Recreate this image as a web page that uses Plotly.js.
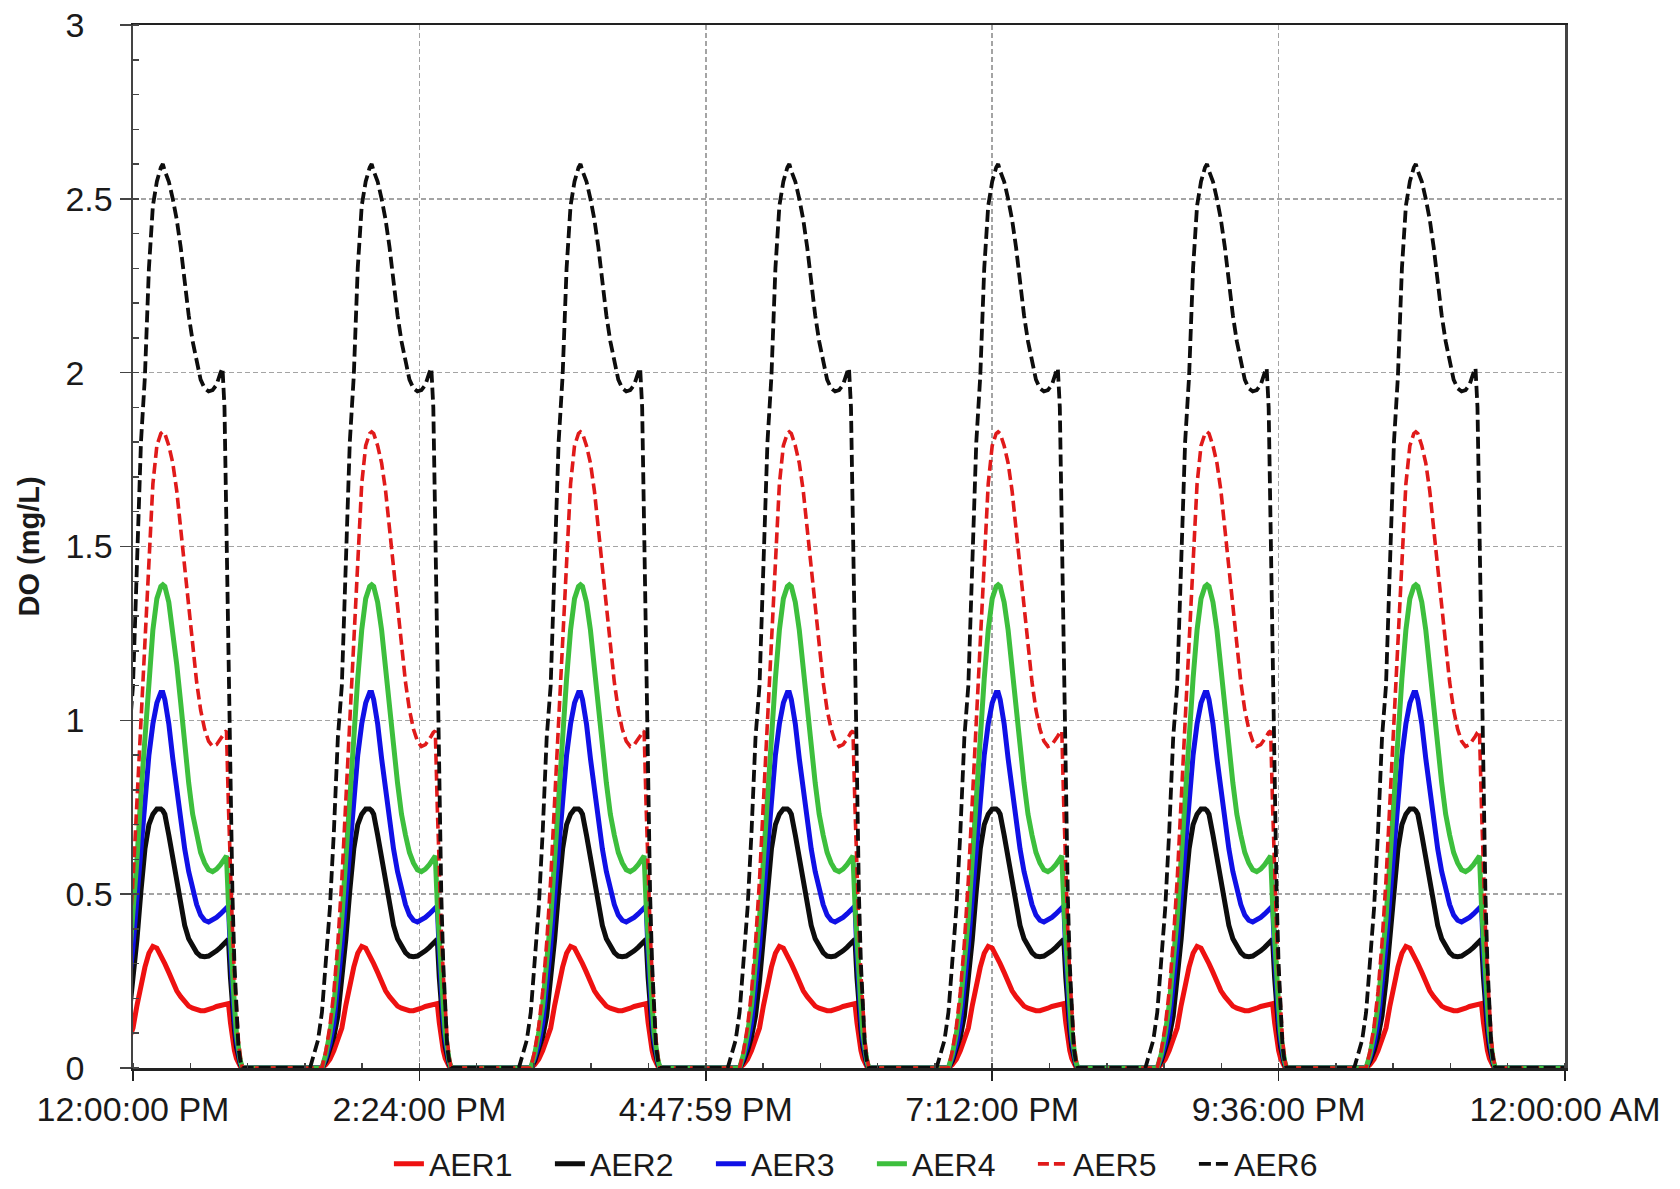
<!DOCTYPE html>
<html>
<head>
<meta charset="utf-8">
<script src="https://cdn.plot.ly/plotly-3.0.1.min.js"></script>
<style>
  html, body { margin: 0; padding: 0; background: #ffffff; }
  #chart { width: 1680px; height: 1189px; }
</style>
</head>
<body>
<div id="chart"></div>
<script>
// ---- Data ----
// x axis: minutes after 12:00:00 PM
const timeTickMinutes = [0, 144, 288, 432, 576, 720];
const timeTickLabels = ['12:00:00 PM', '2:24:00 PM', '4:47:59 PM', '7:12:00 PM', '9:36:00 PM', '12:00:00 AM'];
const windowEndMinutes = 720;

const doTickValues = [0, 0.5, 1, 1.5, 2, 2.5, 3];
const doTickLabels = ['0', '0.5', '1', '1.5', '2', '2.5', '3'];

// time of the AER6 peak in each aeration cycle (minutes after 12:00 PM)
const cyclePeakMinutes = [15, 120, 225, 330, 435, 540, 645];

// offsets (minutes) from each cycle's peak at which values were read
const cycleOffsetMinutes = [-31, -29, -27, -25, -23, -21, -19, -17, -15, -13, -11, -9, -7, -5, -3, -1, 0,
  1, 3, 5, 7, 9, 11, 13, 15, 17, 19, 21, 23, 25, 27, 29, 30, 31, 32, 33, 34, 35, 36, 37, 38, 39, 40];

const aer1 = [0, 0, 0, 0, 0.01, 0.025, 0.05, 0.08, 0.115, 0.18, 0.24, 0.29, 0.33, 0.35, 0.345, 0.325, 0.315,
  0.3, 0.275, 0.245, 0.222, 0.205, 0.19, 0.178, 0.172, 0.168, 0.165, 0.165, 0.167, 0.172, 0.177, 0.18, 0.181, 0.182, 0.184, 0.185, 0.13, 0.085, 0.05, 0.028, 0.012, 0.004, 0];
const aer2 = [0, 0, 0, 0, 0.02, 0.05, 0.09, 0.15, 0.25, 0.37, 0.51, 0.63, 0.7, 0.73, 0.745, 0.745, 0.74,
  0.73, 0.67, 0.6, 0.53, 0.46, 0.41, 0.372, 0.348, 0.332, 0.322, 0.32, 0.322, 0.328, 0.337, 0.347, 0.352, 0.358, 0.365, 0.37, 0.26, 0.17, 0.11, 0.06, 0.03, 0.01, 0];
const aer3 = [0, 0, 0, 0, 0.03, 0.07, 0.13, 0.23, 0.35, 0.49, 0.64, 0.78, 0.9, 0.99, 1.05, 1.08, 1.08,
  1.06, 0.99, 0.89, 0.8, 0.71, 0.63, 0.565, 0.51, 0.47, 0.44, 0.425, 0.42, 0.425, 0.433, 0.443, 0.45, 0.455, 0.462, 0.466, 0.33, 0.22, 0.14, 0.08, 0.04, 0.015, 0];
const aer4 = [0, 0, 0, 0, 0.04, 0.1, 0.18, 0.3, 0.43, 0.6, 0.79, 0.96, 1.12, 1.26, 1.35, 1.385, 1.39,
  1.385, 1.34, 1.26, 1.16, 1.05, 0.93, 0.82, 0.73, 0.67, 0.62, 0.59, 0.57, 0.565, 0.572, 0.585, 0.592, 0.6, 0.61, 0.47, 0.36, 0.26, 0.18, 0.1, 0.05, 0.02, 0];
const aer5 = [0, 0, 0, 0, 0.05, 0.12, 0.22, 0.36, 0.54, 0.77, 1.0, 1.22, 1.43, 1.68, 1.79, 1.825, 1.83,
  1.825, 1.79, 1.74, 1.66, 1.55, 1.43, 1.31, 1.2, 1.11, 1.03, 0.975, 0.94, 0.925, 0.93, 0.945, 0.955, 0.965, 0.97, 0.75, 0.55, 0.4, 0.27, 0.16, 0.08, 0.03, 0];
const aer6 = [0, 0.04, 0.08, 0.16, 0.3, 0.46, 0.68, 0.95, 1.1, 1.48, 1.8, 1.99, 2.3, 2.48, 2.55, 2.59, 2.6,
  2.58, 2.55, 2.5, 2.44, 2.36, 2.25, 2.165, 2.09, 2.03, 1.98, 1.955, 1.946, 1.95, 1.965, 2.0, 2.013, 1.9, 1.55, 1.05, 0.75, 0.5, 0.3, 0.15, 0.06, 0.02, 0];

const seriesNames = ['AER1', 'AER2', 'AER3', 'AER4', 'AER5', 'AER6'];
const seriesValues = [aer1, aer2, aer3, aer4, aer5, aer6];

// ---- Styling ----
const seriesStyles = [
  { color: '#ee1111', width: 5, dash: 'solid' },
  { color: '#0d0d0d', width: 5, dash: 'solid' },
  { color: '#1010e6', width: 5, dash: 'solid' },
  { color: '#3dbf3d', width: 5, dash: 'solid' },
  { color: '#e01a1a', width: 3.6, dash: '11px,5px' },
  { color: '#0d0d0d', width: 3.8, dash: '12px,5px' }
];

function buildSeries(values) {
  const x = [], y = [];
  cyclePeakMinutes.forEach(function (p) {
    cycleOffsetMinutes.forEach(function (s, i) {
      x.push(p + s);
      y.push(values[i]);
    });
  });
  x.push(windowEndMinutes);
  y.push(values[values.length - 1]);
  return { x: x, y: y };
}

const traces = seriesNames.map(function (name, i) {
  const d = buildSeries(seriesValues[i]);
  return {
    type: 'scatter',
    mode: 'lines',
    name: name,
    x: d.x,
    y: d.y,
    line: { color: seriesStyles[i].color, width: seriesStyles[i].width, dash: seriesStyles[i].dash }
  };
});

// left-aligned y tick labels (pad integers to the width of "x.5")
const paddedDoLabels = doTickLabels.map(function (t) {
  return t.indexOf('.') === -1 ? t + '\u2008\u2007' : t;
});

const fontFamily = '"Liberation Sans", Arial, Helvetica, sans-serif';

const layout = {
  width: 1680,
  height: 1189,
  margin: { l: 133, r: 115, t: 25, b: 121, autoexpand: false },
  paper_bgcolor: '#ffffff',
  plot_bgcolor: '#ffffff',
  font: { family: fontFamily, color: '#1a1a1a' },
  showlegend: true,
  legend: {
    orientation: 'h',
    xref: 'paper', x: 0.516, xanchor: 'center',
    yref: 'container', y: 0.021, yanchor: 'middle',
    font: { family: fontFamily, size: 32, color: '#1a1a1a' },
    itemwidth: 30,
    entrywidth: 116,
    entrywidthmode: 'pixels',
    tracegroupgap: 0
  },
  xaxis: {
    range: [0, windowEndMinutes],
    tickmode: 'array',
    tickvals: timeTickMinutes,
    ticktext: timeTickLabels,
    ticks: 'outside', ticklen: 10, tickwidth: 1.5, tickcolor: '#222',
    tickfont: { family: fontFamily, size: 34, color: '#1a1a1a' },
    showline: true, linecolor: '#222', linewidth: 2.5, mirror: true,
    showgrid: true, gridcolor: '#a4a4a4', gridwidth: 1.6, griddash: '5px,3px',
    zeroline: false,
    minor: { tickmode: 'linear', tick0: 0, dtick: 28.8, ticks: 'inside', ticklen: 5, tickwidth: 1.5, tickcolor: '#444', showgrid: false }
  },
  yaxis: {
    range: [0, 3],
    tickmode: 'array',
    tickvals: doTickValues,
    ticktext: paddedDoLabels,
    ticks: 'outside', ticklen: 11, tickwidth: 1.5, tickcolor: '#444',
    tickfont: { family: fontFamily, size: 34, color: '#1a1a1a' },
    showline: true, linecolor: '#444', linewidth: 2.5, mirror: true,
    showgrid: true, gridcolor: '#a4a4a4', gridwidth: 1.6, griddash: '5px,3px',
    zeroline: false,
    title: { text: 'DO (mg/L)', font: { family: fontFamily, size: 29, weight: 700, color: '#1a1a1a' }, standoff: 18 },
    minor: { tickmode: 'linear', tick0: 0, dtick: 0.1, ticks: 'inside', ticklen: 6, tickwidth: 1.5, tickcolor: '#444', showgrid: false }
  }
};

Plotly.newPlot('chart', traces, layout, { staticPlot: true, displayModeBar: false });
</script>
</body>
</html>
